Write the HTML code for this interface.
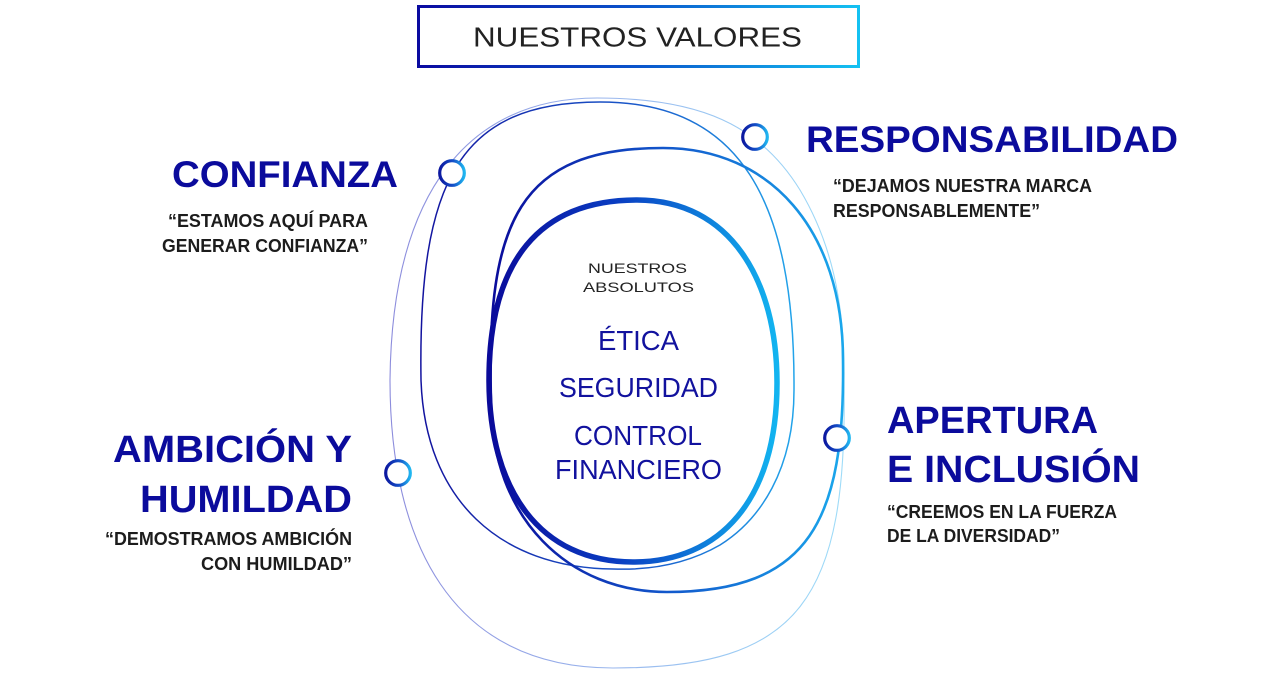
<!DOCTYPE html>
<html>
<head>
<meta charset="utf-8">
<style>
  html, body { margin: 0; padding: 0; background: #ffffff; }
  body { width: 1276px; height: 678px; overflow: hidden; }
  svg { display: block; }
  .title { font-family: "Liberation Sans", sans-serif; font-weight: bold; fill: #0b0b9c; }
  .quote { font-family: "Liberation Sans", sans-serif; font-weight: bold; fill: #1c1c1c; font-size: 18px; }
  .center { font-family: "Liberation Sans", sans-serif; fill: #12129e; font-size: 28px; }
  .small { font-family: "Liberation Sans", sans-serif; fill: #222222; font-size: 14px; }
  .head { font-family: "Liberation Sans", sans-serif; fill: #222222; font-size: 28px; }
</style>
</head>
<body>
<svg width="1276" height="678" viewBox="0 0 1276 678" xmlns="http://www.w3.org/2000/svg">
  <defs>
    <linearGradient id="gBox" gradientUnits="userSpaceOnUse" x1="417" y1="0" x2="860" y2="0">
      <stop offset="0" stop-color="#0a0aa0"/>
      <stop offset="0.5" stop-color="#0a55cc"/>
      <stop offset="1" stop-color="#14c2f2"/>
    </linearGradient>
    <linearGradient id="gD" gradientUnits="userSpaceOnUse" x1="489" y1="0" x2="777" y2="0">
      <stop offset="0" stop-color="#0a0a9a"/>
      <stop offset="0.45" stop-color="#0a3ec2"/>
      <stop offset="1" stop-color="#12b4f0"/>
    </linearGradient>
    <linearGradient id="gB" gradientUnits="userSpaceOnUse" x1="490" y1="0" x2="845" y2="0">
      <stop offset="0" stop-color="#0a0a9a"/>
      <stop offset="0.5" stop-color="#1258cc"/>
      <stop offset="1" stop-color="#1aa8ec"/>
    </linearGradient>
    <linearGradient id="gA" gradientUnits="userSpaceOnUse" x1="420" y1="0" x2="795" y2="0">
      <stop offset="0" stop-color="#12129e"/>
      <stop offset="0.6" stop-color="#1a5ccc"/>
      <stop offset="1" stop-color="#22a4ea"/>
    </linearGradient>
    <linearGradient id="gC" gradientUnits="userSpaceOnUse" x1="390" y1="0" x2="845" y2="0">
      <stop offset="0" stop-color="#8c8cdc"/>
      <stop offset="0.5" stop-color="#9ab8ee"/>
      <stop offset="1" stop-color="#9edcf8"/>
    </linearGradient>
    <linearGradient id="gCirc" x1="0" y1="0" x2="1" y2="0">
      <stop offset="0" stop-color="#0c18a0"/>
      <stop offset="0.55" stop-color="#1450c8"/>
      <stop offset="1" stop-color="#20b6f0"/>
    </linearGradient>
  </defs>

  <!-- Header box -->
  <rect x="418.5" y="6.5" width="440" height="60" fill="#ffffff" stroke="url(#gBox)" stroke-width="3"/>
  <text class="head" x="473" y="46.5" textLength="329" lengthAdjust="spacingAndGlyphs">NUESTROS VALORES</text>

  <!-- Loop C (outermost, light thin) -->
  <path d="M390,380 C392,190 470,98 597,98 C700,98 760,125 800,190 C830,240 845,300 844,380 C848,600 800,668 613,668 C450,668 390,540 390,380 Z"
        fill="none" stroke="url(#gC)" stroke-width="1.1"/>

  <!-- Loop A (thin dark blue) -->
  <path d="M421,380 C418,180 460,102 600,102 C740,102 795,200 794,390 C794,470 760,520 720,545 C680,568 640,570 613,569 C500,568 425,500 421,380 Z"
        fill="none" stroke="url(#gA)" stroke-width="1.5"/>

  <!-- Loop B (medium) -->
  <path d="M491,400 C486,220 520,148 663,148 C770,148 843,230 843,360 C845,520 810,592 667,592 C570,592 491,520 491,400 Z"
        fill="none" stroke="url(#gB)" stroke-width="2.6"/>

  <!-- Loop D (thick inner) -->
  <path d="M489,380 C489,260 540,200 637,200 C730,200 777,280 777,383 C777,500 720,562 633,562 C540,562 489,490 489,380 Z"
        fill="none" stroke="url(#gD)" stroke-width="5.5"/>

  <!-- Circles -->
  <circle cx="452" cy="173" r="12.3" fill="#ffffff" stroke="url(#gCirc)" stroke-width="3.2"/>
  <circle cx="755" cy="137" r="12.3" fill="#ffffff" stroke="url(#gCirc)" stroke-width="3.2"/>
  <circle cx="837" cy="438" r="12.3" fill="#ffffff" stroke="url(#gCirc)" stroke-width="3.2"/>
  <circle cx="398" cy="473" r="12.3" fill="#ffffff" stroke="url(#gCirc)" stroke-width="3.2"/>

  <!-- Center text -->
  <text class="small" x="588" y="273" textLength="99" lengthAdjust="spacingAndGlyphs">NUESTROS</text>
  <text class="small" x="583" y="292" textLength="111" lengthAdjust="spacingAndGlyphs">ABSOLUTOS</text>
  <text class="center" x="598" y="350" textLength="81" lengthAdjust="spacingAndGlyphs">ÉTICA</text>
  <text class="center" x="559" y="397" textLength="159" lengthAdjust="spacingAndGlyphs">SEGURIDAD</text>
  <text class="center" x="574" y="445" textLength="128" lengthAdjust="spacingAndGlyphs">CONTROL</text>
  <text class="center" x="555" y="479" textLength="167" lengthAdjust="spacingAndGlyphs">FINANCIERO</text>

  <!-- CONFIANZA -->
  <text class="title" font-size="37" x="172" y="187" textLength="226" lengthAdjust="spacingAndGlyphs">CONFIANZA</text>
  <text class="quote" x="168" y="227" textLength="200" lengthAdjust="spacingAndGlyphs">“ESTAMOS AQUÍ PARA</text>
  <text class="quote" x="162" y="252" textLength="206" lengthAdjust="spacingAndGlyphs">GENERAR CONFIANZA”</text>

  <!-- RESPONSABILIDAD -->
  <text class="title" font-size="37" x="806" y="152" textLength="372" lengthAdjust="spacingAndGlyphs">RESPONSABILIDAD</text>
  <text class="quote" x="833" y="192" textLength="259" lengthAdjust="spacingAndGlyphs">“DEJAMOS NUESTRA MARCA</text>
  <text class="quote" x="833" y="217" textLength="207" lengthAdjust="spacingAndGlyphs">RESPONSABLEMENTE”</text>

  <!-- AMBICIÓN Y HUMILDAD -->
  <text class="title" font-size="38" x="113" y="462" textLength="239" lengthAdjust="spacingAndGlyphs">AMBICIÓN Y</text>
  <text class="title" font-size="38" x="140" y="512" textLength="212" lengthAdjust="spacingAndGlyphs">HUMILDAD</text>
  <text class="quote" x="105" y="545" textLength="247" lengthAdjust="spacingAndGlyphs">“DEMOSTRAMOS AMBICIÓN</text>
  <text class="quote" x="201" y="570" textLength="151" lengthAdjust="spacingAndGlyphs">CON HUMILDAD”</text>

  <!-- APERTURA E INCLUSIÓN -->
  <text class="title" font-size="38" x="887" y="433" textLength="211" lengthAdjust="spacingAndGlyphs">APERTURA</text>
  <text class="title" font-size="38" x="887" y="482" textLength="253" lengthAdjust="spacingAndGlyphs">E INCLUSIÓN</text>
  <text class="quote" x="887" y="518" textLength="230" lengthAdjust="spacingAndGlyphs">“CREEMOS EN LA FUERZA</text>
  <text class="quote" x="887" y="542" textLength="173" lengthAdjust="spacingAndGlyphs">DE LA DIVERSIDAD”</text>
</svg>
</body>
</html>
